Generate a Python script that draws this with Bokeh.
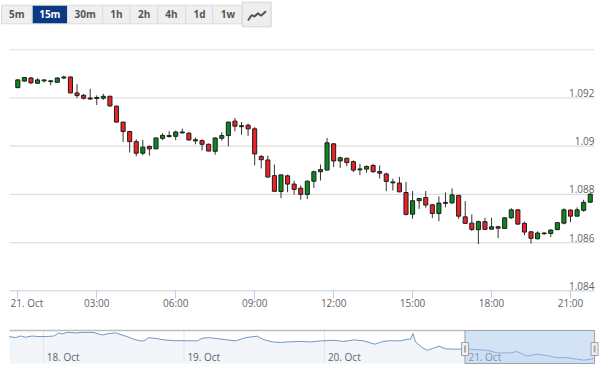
import math
from bokeh.plotting import figure
from bokeh.layouts import column
from bokeh.models import Range1d, FixedTicker
from bokeh.core.properties import value
from bokeh.embed import file_html
from bokeh.resources import INLINE

FONT = "Open Sans"
TXT = "#5f6468"

# ---------- 15 minute candles, 21 Oct ----------
opens = [1.09243,1.09270,1.09283,1.09261,1.09271,1.09268,1.09265,1.09283,1.09287,1.09221,1.09211,1.09200,
         1.09202,1.09199,1.09207,1.09166,1.09100,1.09061,1.09019,1.08971,1.08999,1.08989,1.09033,1.09040,
         1.09041,1.09055,1.09054,1.09027,1.09023,1.09008,1.08979,1.09033,1.09044,1.09104,1.09085,1.09087,
         1.09072,1.08957,1.08943,1.08878,1.08812,1.08877,1.08843,1.08826,1.08800,1.08855,1.08894,1.08901,
         1.09010,1.08939,1.08950,1.08936,1.08906,1.08905,1.08920,1.08895,1.08885,1.08852,1.08847,1.08808,
         1.08718,1.08774,1.08787,1.08757,1.08721,1.08763,1.08765,1.08796,1.08707,1.08681,1.08654,1.08687,
         1.08656,1.08666,1.08659,1.08703,1.08736,1.08680,1.08645,1.08616,1.08637,1.08638,1.08654,1.08681,
         1.08735,1.08710,1.08734,1.08768]
highs = [1.09278,1.09287,1.09287,1.09282,1.09276,1.09275,1.09285,1.09292,1.09290,1.09257,1.09217,1.09238,
         1.09211,1.09217,1.09210,1.09169,1.09101,1.09064,1.09029,1.09026,1.09003,1.09037,1.09054,1.09062,
         1.09065,1.09073,1.09058,1.09036,1.09029,1.09011,1.09037,1.09058,1.09102,1.09117,1.09100,1.09094,
         1.09079,1.08964,1.08961,1.08924,1.08882,1.08882,1.08857,1.08837,1.08858,1.08899,1.08924,1.09034,
         1.09012,1.08957,1.08952,1.08941,1.08927,1.08920,1.08927,1.08920,1.08890,1.08865,1.08873,1.08852,
         1.08814,1.08786,1.08814,1.08760,1.08792,1.08808,1.08825,1.08798,1.08772,1.08717,1.08692,1.08703,
         1.08703,1.08670,1.08706,1.08743,1.08738,1.08688,1.08648,1.08647,1.08643,1.08656,1.08685,1.08743,
         1.08738,1.08746,1.08778,1.08805]
lows = [1.09240,1.09268,1.09257,1.09260,1.09264,1.09253,1.09264,1.09278,1.09220,1.09199,1.09193,1.09192,
        1.09171,1.09192,1.09164,1.09098,1.09018,1.08974,1.08958,1.08963,1.08961,1.08988,1.09025,1.09036,
        1.09025,1.09054,1.09023,1.09008,1.08983,1.08978,1.08965,1.09023,1.09000,1.09062,1.09048,1.09043,
        1.08921,1.08908,1.08871,1.08812,1.08785,1.08809,1.08799,1.08778,1.08781,1.08827,1.08858,1.08901,
        1.08914,1.08910,1.08917,1.08892,1.08880,1.08890,1.08890,1.08866,1.08814,1.08816,1.08809,1.08713,
        1.08699,1.08740,1.08745,1.08702,1.08689,1.08747,1.08761,1.08699,1.08678,1.08648,1.08594,1.08654,
        1.08655,1.08619,1.08658,1.08699,1.08673,1.08631,1.08596,1.08614,1.08633,1.08623,1.08652,1.08676,
        1.08685,1.08709,1.08728,1.08765]
closes = [1.09275,1.09285,1.09263,1.09275,1.09275,1.09271,1.09283,1.09287,1.09221,1.09210,1.09199,1.09196,
          1.09198,1.09207,1.09167,1.09100,1.09061,1.09019,1.08971,1.08996,1.08989,1.09034,1.09045,1.09044,
          1.09059,1.09059,1.09026,1.09022,1.09008,1.08980,1.09034,1.09044,1.09100,1.09083,1.09081,1.09072,
          1.08968,1.08944,1.08872,1.08813,1.08881,1.08843,1.08821,1.08800,1.08855,1.08894,1.08903,1.09014,
          1.08939,1.08952,1.08932,1.08901,1.08902,1.08916,1.08894,1.08888,1.08854,1.08848,1.08811,1.08717,
          1.08774,1.08783,1.08756,1.08721,1.08764,1.08767,1.08798,1.08710,1.08680,1.08655,1.08687,1.08655,
          1.08666,1.08660,1.08703,1.08736,1.08677,1.08644,1.08618,1.08640,1.08640,1.08652,1.08683,1.08736,
          1.08710,1.08736,1.08767,1.08801]
slots = list(range(len(opens)))

y_ticks = [1.084, 1.086, 1.088, 1.09, 1.092]
y_tick_labels = ["1.084", "1.086", "1.088", "1.09", "1.092"]
x_ticks = [0, 12, 24, 36, 48, 60, 72, 84]
x_tick_labels = ["21. Oct", "03:00", "06:00", "09:00", "12:00", "15:00", "18:00", "21:00"]

# ---------- navigator series (days after 18 Oct) ----------
nav_days = [-0.242,-0.199,-0.164,-0.128,-0.081,-0.033,0.014,0.074,0.109,0.133,0.169,0.228,0.287,0.358,0.418,0.465,
            0.513,0.560,0.619,0.643,0.690,0.714,0.750,0.809,0.857,0.928,0.999,1.094,1.129,1.177,1.236,1.307,
            1.367,1.438,1.521,1.568,1.628,1.687,1.734,1.829,1.900,1.971,2.066,2.137,2.209,2.280,2.356,2.422,
            2.470,2.541,2.588,2.612,2.629,2.648,2.695,2.731,2.766,2.814,2.861,2.944,2.999,3.086,3.158,3.229,
            3.324,3.371,3.442,3.513,3.585,3.656,3.727,3.798,3.846,3.917]
nav_vals = [1.0987,1.0982,1.0990,1.0984,1.0990,1.0987,1.0987,1.0990,1.1005,1.1000,1.1008,1.1005,1.1008,1.1007,1.0995,1.1002,
            1.1005,1.0995,1.0981,1.0974,1.0966,1.0966,1.0982,1.0977,1.0971,1.0967,1.0967,1.0966,1.0979,1.0982,1.0977,1.0971,
            1.0966,1.0982,1.0989,1.0972,1.0961,1.0958,1.0961,1.0963,1.0961,1.0966,1.0969,1.0963,1.0971,1.0966,1.0950,1.0964,
            1.0967,1.0966,1.0974,1.0974,1.1002,1.0961,1.0933,1.0920,1.0928,1.0940,1.0927,1.0925,1.0927,1.0923,1.0920,1.0907,
            1.0907,1.0914,1.0891,1.0901,1.0894,1.0883,1.0884,1.0876,1.0871,1.0879]
nav_dates = [0, 1, 2, 3]
nav_date_labels = ["18. Oct", "19. Oct", "20. Oct", "21. Oct"]

# ---------- range buttons ----------
btn_labels = ["5m", "15m", "30m", "1h", "2h", "4h", "1d", "1w"]
btn_left = [1, 31.7, 67, 102.3, 129.7, 157.3, 185.3, 212.3]
btn_right = [31.7, 67, 102.3, 129.7, 157.3, 185.3, 212.3, 241.7]
btn_center = [16.3, 49.3, 84.7, 116, 143.7, 171, 199, 227.3]
btn_fill = ["#efefef", "#0b3a84", "#efefef", "#efefef", "#efefef", "#efefef", "#efefef", "#efefef"]
btn_text = ["#555555", "#ffffff", "#555555", "#555555", "#555555", "#555555", "#555555", "#555555"]

header = figure(width=600, height=36, x_range=Range1d(0, 600), y_range=Range1d(36, 0),
                output_backend="svg", toolbar_location=None, min_border=0,
                x_axis_type=None, y_axis_type=None, outline_line_color=None)
header.grid.visible = False
header.quad(left=btn_left, right=btn_right, top=[4.7] * 8, bottom=[23.3] * 8,
            fill_color=btn_fill, line_color="#dcdcdc", line_width=1)
header.quad(left=[241.7], right=[270.7], top=[1.7], bottom=[26.3], fill_color="#eeeeee", line_color="#d6d6d6")
header.line([247.5, 251, 254, 257.5, 260.5, 265.5], [20, 14.7, 16, 12.7, 15.3, 10.7], line_color="#555555", line_width=2)
header.text(btn_center, [13] * 8, text=btn_labels, text_color=btn_text, text_align="center",
            text_baseline="middle", text_font=value(FONT), text_font_size="10px", text_font_style="bold")

# ---------- main chart ----------
x_left, x_right = -1.26, 87.64
main = figure(width=600, height=292, x_range=Range1d(-2.63, 88.56), y_range=Range1d(1.08244, 1.09455),
              output_backend="svg", toolbar_location=None, min_border=0, outline_line_color=None,
              y_axis_type=None)
main.xgrid.visible = False
main.ygrid.visible = False
main.segment(x0=[x_left] * 4, x1=[x_right] * 4, y0=y_ticks[1:], y1=y_ticks[1:], line_color="#dedede", line_width=1.2)
main.segment(x0=[x_left], x1=[x_right], y0=[1.094], y1=[1.094], line_color="#dedede", line_width=1.2)
main.segment(x0=[x_left], x1=[x_right], y0=[1.084], y1=[1.084], line_color="#c0d0e0", line_width=1)
main.xaxis.fixed_location = 1.084
main.xaxis.ticker = FixedTicker(ticks=x_ticks)
main.xaxis.major_label_overrides = {t: (" " if i == 0 else x_tick_labels[i]) for i, t in enumerate(x_ticks)}
main.xaxis.axis_line_color = None
main.xaxis.major_tick_line_color = "#c0d0e0"
main.xaxis.major_tick_in = 0
main.xaxis.major_tick_out = 8
main.xaxis.minor_tick_line_color = None
main.xaxis.major_label_standoff = -3
main.xaxis.major_label_text_font = FONT
main.xaxis.major_label_text_font_size = "10px"
main.xaxis.major_label_text_color = TXT
main.text(x_ticks[:1], y_ticks[:1], text=x_tick_labels[:1], x_offset=-7.3, y_offset=12, text_baseline="middle",
          text_font=value(FONT), text_font_size="10px", text_color=TXT)
main.text([x_right] * 5, y_ticks, text=y_tick_labels, text_align="right", text_baseline="alphabetic",
          y_offset=-5, text_font=value(FONT), text_font_size="10px", text_color=TXT)

main.segment(slots, highs, slots, lows, line_color="#333333", line_width=1)
colors = ["#0a8a1c" if c >= o else "#ee2226" for o, c in zip(opens, closes)]
main.vbar(x=slots, width=0.62, top=[max(a, b) for a, b in zip(opens, closes)],
          bottom=[min(a, b) for a, b in zip(opens, closes)], fill_color=colors,
          line_color="#1c1c1c", line_width=1)

# ---------- navigator ----------
nav_floor, nav_top = 1.0855, 1.1017
nav_end = 3.922
nav = figure(width=600, height=41, x_range=Range1d(-0.306, 3.964), y_range=Range1d(1.08255, 1.10268),
             output_backend="svg", toolbar_location=None, min_border=0, outline_line_color=None,
             x_axis_type=None, y_axis_type=None)
nav.grid.visible = False
nav.varea(x=nav_days, y1=[nav_floor] * len(nav_days), y2=nav_vals, fill_color="#f2f6fb")
nav.segment(nav_dates, [nav_floor] * 4, nav_dates, [nav_top] * 4, line_color="#e3e8f0", line_width=1)
nav.line(nav_days, nav_vals, line_color="#7595c2", line_width=1)
nav.text([d + 0.024 for d in nav_dates], [1.0868] * 4, text=nav_date_labels, y_offset=-4, text_font=value(FONT),
         text_font_size="10px", text_color=TXT, text_baseline="middle")
nav.segment([nav_days[0]], [nav_top], [nav_dates[-1]], [nav_top], line_color="#bdbdbd", line_width=1.5)
nav.quad(left=[nav_dates[-1]], right=[nav_end], bottom=[nav_floor], top=[nav_top], fill_color="#a9c6ee", fill_alpha=0.5,
         line_color="#9aa3ad", line_width=1)
nav.rect([nav_dates[-1], nav_end], [1.0926, 1.0926], width=7, height=13, width_units="screen", height_units="screen",
         fill_color="#efefef", line_color="#a0a0a0", line_width=1)
nav.scatter([nav_dates[-1], nav_end], [1.0926, 1.0926], marker="dash", size=7, angle=math.pi / 2,
            line_color="#a8a8a8", line_width=2)

page = column(header, main, nav, spacing=0)
open("out.html", "w").write(file_html(page, INLINE))
